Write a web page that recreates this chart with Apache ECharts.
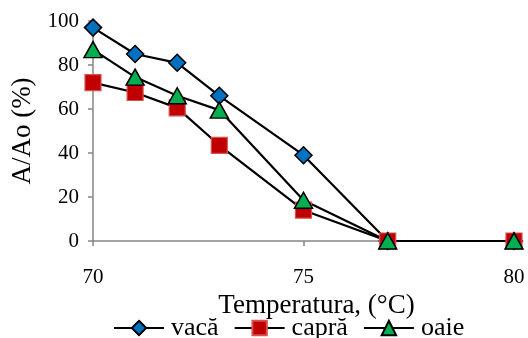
<!DOCTYPE html>
<html><head><meta charset="utf-8">
<script src="https://cdn.jsdelivr.net/npm/echarts@6/dist/echarts.min.js"></script>
<style>html,body{margin:0;padding:0;background:#fff}#c{width:528px;height:338px}</style>
</head><body><div id="c"></div>
<script>
const temps = [70, 71, 72, 73, 75, 77, 80];
const vaca = [97, 85, 81, 66, 39, 0, 0];
const capra = [72, 67.5, 60.5, 43.5, 14, 0, 0];
const oaie = [87, 74.5, 66, 59.5, 18.5, 0, 0];
const seriesNames = ['vacă', 'capră', 'oaie'];
const xTicks = [70, 75, 80];
const yTicks = [0, 20, 40, 60, 80, 100];

const font = 'Liberation Serif';
const chart = echarts.init(document.getElementById('c'));
const pair = arr => temps.map((t, i) => [t, arr[i]]);
const axisGray = '#868686';
chart.setOption({
  animation: false,
  grid: {left: 93, right: 14, top: 21, bottom: 97},
  xAxis: {
    type: 'value', min: xTicks[0], max: xTicks[xTicks.length - 1], interval: 5,
    name: 'Temperatura, (°C)', nameLocation: 'middle', nameGap: 47,
    nameTextStyle: {fontFamily: font, fontSize: 27, color: '#000', padding: [0, 0, 0, 26]},
    axisLine: {show: true, lineStyle: {color: axisGray, width: 1.5}},
    axisTick: {show: true, length: 5, lineStyle: {color: axisGray, width: 1.5}},
    axisLabel: {fontFamily: font, fontSize: 21, color: '#000', margin: 26},
    splitLine: {show: false}
  },
  yAxis: {
    type: 'value', min: yTicks[0], max: yTicks[yTicks.length - 1], interval: 20,
    name: 'A/Ao (%)', nameLocation: 'middle', nameGap: 56, nameRotate: 90,
    nameTextStyle: {fontFamily: font, fontSize: 27, color: '#000'},
    axisLine: {show: true, lineStyle: {color: axisGray, width: 1.5}},
    axisTick: {show: true, length: 5, lineStyle: {color: axisGray, width: 1.5}},
    axisLabel: {fontFamily: font, fontSize: 21, color: '#000', margin: 14},
    splitLine: {show: false}
  },
  legend: {
    data: seriesNames, left: 108, top: 310, itemWidth: 50, itemHeight: 18, itemGap: 15,
    textStyle: {fontFamily: font, fontSize: 26, color: '#000', padding: [0,0,0,2]}
  },
  series: [
    {name: seriesNames[0], type: 'line', data: pair(vaca), symbol: 'diamond', symbolSize: 17,
     lineStyle: {color: '#000', width: 2.2},
     itemStyle: {color: '#0070C0', borderColor: '#000', borderWidth: 1.5}},
    {name: seriesNames[1], type: 'line', data: pair(capra), symbol: 'rect', symbolSize: 16,
     lineStyle: {color: '#000', width: 2.2},
     itemStyle: {color: '#C00000', borderColor: '#D85050', borderWidth: 1.2}},
    {name: seriesNames[2], type: 'line', data: pair(oaie), symbol: 'triangle', symbolSize: [18, 16],
     lineStyle: {color: '#000', width: 2.2},
     itemStyle: {color: '#00B050', borderColor: '#000', borderWidth: 1.5}}
  ]
});
</script></body></html>
